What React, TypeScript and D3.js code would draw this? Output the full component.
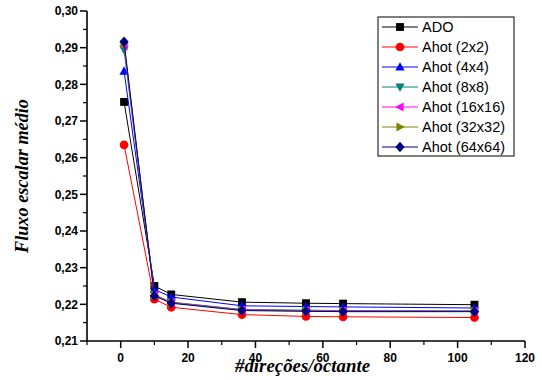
import React from "react";
import * as d3 from "d3";

const directions = [1, 10, 15, 36, 55, 66, 105];
const seriesNames = ["ADO", "Ahot (2x2)", "Ahot (4x4)", "Ahot (8x8)", "Ahot (16x16)", "Ahot (32x32)", "Ahot (64x64)"];
const seriesColors = ["#000000", "#FF0000", "#0000FF", "#008080", "#FF00FF", "#808000", "#000080"];
const seriesMarkers = ["square", "circle", "up", "down", "left", "right", "diamond"];

const ado = [0.2752, 0.2250, 0.2227, 0.2206, 0.2203, 0.2202, 0.2199];
const ahot2 = [0.2635, 0.2214, 0.2192, 0.2172, 0.2167, 0.2166, 0.2164];
const ahot4 = [0.2836, 0.2241, 0.2220, 0.2196, 0.2194, 0.2193, 0.2190];
const ahot8 = [0.2894, 0.2226, 0.2206, 0.2186, 0.2184, 0.2183, 0.2182];
const ahot16 = [0.2906, 0.2225, 0.2205, 0.2185, 0.2183, 0.2182, 0.2181];
const ahot32 = [0.2910, 0.2224, 0.2204, 0.2184, 0.2182, 0.2181, 0.2181];
const ahot64 = [0.2916, 0.2223, 0.2203, 0.2183, 0.2181, 0.2180, 0.2180];
const seriesValues = [ado, ahot2, ahot4, ahot8, ahot16, ahot32, ahot64];

const xTicks = [0, 20, 40, 60, 80, 100, 120];
const xMinorTicks = [-10, 10, 30, 50, 70, 90, 110];
const yTicks = [0.21, 0.22, 0.23, 0.24, 0.25, 0.26, 0.27, 0.28, 0.29, 0.30];
const yMinorTicks = [0.215, 0.225, 0.235, 0.245, 0.255, 0.265, 0.275, 0.285, 0.295];

const x = d3.scaleLinear().domain([-10, 120]).range([87, 525]);
const y = d3.scaleLinear().domain([0.21, 0.30]).range([341, 11]);

function markerPath(kind: string): string {
  const s = 4.2;
  switch (kind) {
    case "square":
      return d3.symbol(d3.symbolSquare, 62)()!;
    case "circle":
      return d3.symbol(d3.symbolCircle, 60)()!;
    case "up":
      return `M0,${-s * 1.15}L${s * 1.1},${s * 0.85}L${-s * 1.1},${s * 0.85}Z`;
    case "down":
      return `M0,${s * 1.15}L${s * 1.1},${-s * 0.85}L${-s * 1.1},${-s * 0.85}Z`;
    case "left":
      return `M${-s * 1.15},0L${s * 0.85},${-s * 1.1}L${s * 0.85},${s * 1.1}Z`;
    case "right":
      return `M${s * 1.15},0L${-s * 0.85},${-s * 1.1}L${-s * 0.85},${s * 1.1}Z`;
    default:
      return `M0,${-s * 1.25}L${s * 1.1},0L0,${s * 1.25}L${-s * 1.1},0Z`;
  }
}

const fmt = (v: number) => v.toFixed(2).replace(".", ",");

export default function App() {
  const line = d3
    .line<number>()
    .x((_, i) => x(directions[i]))
    .y((v) => y(v));

  const legendX = 378;
  const legendY = 17;
  const rowH = 20;

  return (
    <svg
      width={542}
      height={380}
      style={{ position: "absolute", left: 0, top: 0, background: "#fff" }}
      fontFamily="'Liberation Sans', Arial, sans-serif"
    >
      {/* series lines and markers */}
      {seriesValues.map((vals, si) => (
        <g key={si}>
          <path d={line(vals)!} fill="none" stroke={seriesColors[si]} strokeWidth={1} />
          {vals.map((v, i) => (
            <path
              key={i}
              d={markerPath(seriesMarkers[si])}
              transform={`translate(${x(directions[i])},${y(v)})`}
              fill={seriesColors[si]}
            />
          ))}
        </g>
      ))}

      {/* y axis */}
      <line x1={x(-10)} x2={x(-10)} y1={y(0.3)} y2={y(0.21)} stroke="#000" strokeWidth={1.6} />
      {yTicks.map((t) => (
        <g key={t}>
          <line x1={x(-10) - 7} x2={x(-10)} y1={y(t)} y2={y(t)} stroke="#000" strokeWidth={1.5} />
          <text x={x(-10) - 9} y={y(t)} dy="0.35em" textAnchor="end" fontSize={12} fontWeight="bold">
            {fmt(t)}
          </text>
        </g>
      ))}
      {yMinorTicks.map((t) => (
        <line key={t} x1={x(-10) - 4} x2={x(-10)} y1={y(t)} y2={y(t)} stroke="#000" strokeWidth={1.2} />
      ))}

      {/* x axis */}
      <line x1={x(-10)} x2={x(120)} y1={y(0.21)} y2={y(0.21)} stroke="#000" strokeWidth={1.6} />
      {xTicks.map((t) => (
        <g key={t}>
          <line x1={x(t)} x2={x(t)} y1={y(0.21)} y2={y(0.21) + 7} stroke="#000" strokeWidth={1.5} />
          <text x={x(t)} y={y(0.21) + 21} textAnchor="middle" fontSize={12} fontWeight="bold">
            {t}
          </text>
        </g>
      ))}
      {xMinorTicks.map((t) => (
        <line key={t} x1={x(t)} x2={x(t)} y1={y(0.21)} y2={y(0.21) + 4} stroke="#000" strokeWidth={1.2} />
      ))}

      {/* axis titles */}
      <text
        transform={`translate(28,176) rotate(-90)`}
        textAnchor="middle"
        fontFamily="'Liberation Serif', 'Times New Roman', serif"
        fontStyle="italic"
        fontWeight="bold"
        fontSize={19}
        textLength={154}
        lengthAdjust="spacingAndGlyphs"
      >
        Fluxo escalar médio
      </text>
      <text
        x={302.5}
        y={372}
        textAnchor="middle"
        fontFamily="'Liberation Serif', 'Times New Roman', serif"
        fontStyle="italic"
        fontWeight="bold"
        fontSize={19}
        textLength={135}
        lengthAdjust="spacingAndGlyphs"
      >
        #direções/octante
      </text>

      {/* legend */}
      <rect x={legendX} y={legendY} width={136} height={139} fill="#fff" stroke="#000" strokeWidth={1} />
      {seriesNames.map((name, i) => {
        const cy = legendY + 10 + i * rowH;
        return (
          <g key={name}>
            <line x1={legendX + 4} x2={legendX + 40} y1={cy} y2={cy} stroke={seriesColors[i]} strokeWidth={1} />
            <path d={markerPath(seriesMarkers[i])} transform={`translate(${legendX + 22},${cy})`} fill={seriesColors[i]} />
            <text x={legendX + 44} y={cy} dy="0.36em" fontSize={14.5}>
              {name}
            </text>
          </g>
        );
      })}
    </svg>
  );
}
